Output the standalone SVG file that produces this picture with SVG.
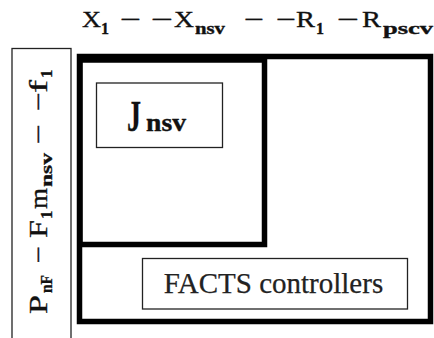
<svg xmlns="http://www.w3.org/2000/svg" width="434" height="338" viewBox="0 0 434 338">
<style>
.thin{fill:#fff;stroke:#222;stroke-width:1.3}
.thick{fill:none;stroke:#000;stroke-width:5.5}
.m{font-family:"Liberation Serif","DejaVu Serif",serif;fill:#111;stroke:#111;stroke-width:0.35}
.sub{font-size:16px;font-weight:bold}
.lbl{font-family:"Liberation Serif",serif;fill:#222;stroke:#222;stroke-width:0.25}
</style>
<rect width="434" height="338" fill="#fff"/>
<g id="top-label">
<text class="m" font-size="23">
<tspan x="82" y="27" textLength="19" lengthAdjust="spacingAndGlyphs">X</tspan><tspan class="sub" x="101" y="34">1</tspan><tspan x="120" y="27" textLength="21" lengthAdjust="spacingAndGlyphs">−</tspan><tspan x="151" y="27" textLength="22" lengthAdjust="spacingAndGlyphs">−</tspan><tspan x="174" y="27" textLength="20" lengthAdjust="spacingAndGlyphs">X</tspan><tspan class="sub" x="195" y="34" textLength="30" lengthAdjust="spacingAndGlyphs">nsv</tspan><tspan x="244" y="27" textLength="20" lengthAdjust="spacingAndGlyphs">−</tspan><tspan x="276" y="27" textLength="20" lengthAdjust="spacingAndGlyphs">−</tspan><tspan x="296" y="27" textLength="19" lengthAdjust="spacingAndGlyphs">R</tspan><tspan class="sub" x="316" y="34">1</tspan><tspan x="337" y="27" textLength="22" lengthAdjust="spacingAndGlyphs">−</tspan><tspan x="362" y="27" textLength="19" lengthAdjust="spacingAndGlyphs">R</tspan><tspan class="sub" x="383" y="34" textLength="50" lengthAdjust="spacingAndGlyphs">pscv</tspan>
</text>
</g>
<g id="left-node">
<rect class="thin" x="12" y="48.5" width="59" height="300"/>
<text class="m" font-size="26" transform="translate(47,313) rotate(-90)">
<tspan x="-1" y="0" textLength="19" lengthAdjust="spacingAndGlyphs">P</tspan><tspan x="20" y="5" font-size="17" font-weight="bold" textLength="18" lengthAdjust="spacingAndGlyphs">nF</tspan><tspan x="50" y="0" textLength="17" lengthAdjust="spacingAndGlyphs">−</tspan><tspan x="75" y="0" textLength="18" lengthAdjust="spacingAndGlyphs">F</tspan><tspan x="94" y="5" font-size="17" font-weight="bold">1</tspan><tspan x="104" y="0" textLength="21" lengthAdjust="spacingAndGlyphs">m</tspan><tspan x="126" y="5" font-size="17" font-weight="bold" textLength="34" lengthAdjust="spacingAndGlyphs">nsv</tspan><tspan x="169" y="0" textLength="20" lengthAdjust="spacingAndGlyphs">−</tspan><tspan x="202" y="0" textLength="19" lengthAdjust="spacingAndGlyphs">−</tspan><tspan x="220" y="0" textLength="13" lengthAdjust="spacingAndGlyphs">f</tspan><tspan x="235" y="5" font-size="17" font-weight="bold">1</tspan>
</text>
</g>
<g id="outer-node">
<rect class="thick" x="79.5" y="56.5" width="351" height="265"/>
</g>
<g id="inner-node">
<rect class="thick" x="80" y="60" width="184.5" height="184.5"/>
</g>
<g id="jnsv-node">
<rect class="thin" x="96.5" y="83" width="126" height="64.5"/>
<text class="m" font-weight="bold"><tspan x="127" y="130.5" font-size="44" textLength="14" lengthAdjust="spacingAndGlyphs">J</tspan><tspan x="146" y="130.5" font-size="25" textLength="40" lengthAdjust="spacingAndGlyphs">nsv</tspan></text>
</g>
<g id="facts-node">
<rect class="thin" x="142.5" y="258.5" width="265" height="50.5"/>
<text class="lbl" x="273.5" y="293.3" font-size="29" text-anchor="middle">FACTS controllers</text>
</g>
<g id="connectors"/>
</svg>
